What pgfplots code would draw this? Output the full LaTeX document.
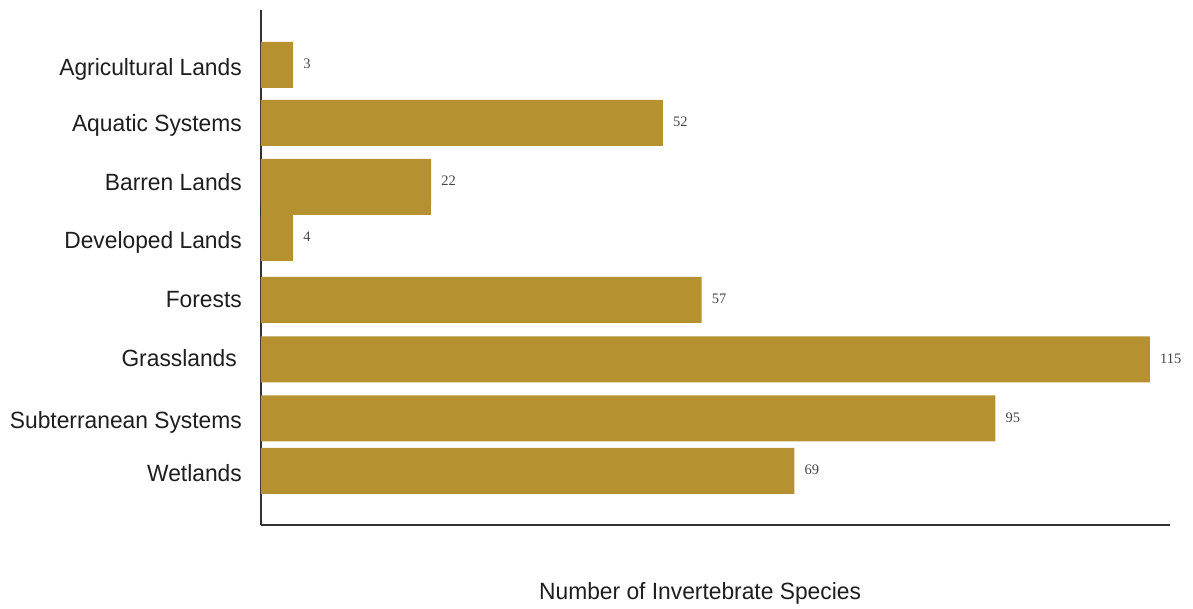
\documentclass[border=0pt]{standalone}
\usepackage{pgfplots}
\pgfplotsset{compat=1.18}
\usepackage{fontspec}
\setmainfont{Liberation Sans}[FakeStretch=0.97]
\newfontfamily\valfont{Liberation Serif}
\definecolor{barc}{RGB}{181,146,47}
\definecolor{axc}{RGB}{50,50,50}
\definecolor{valc}{RGB}{70,70,70}
\definecolor{txtc}{RGB}{30,30,30}
\begin{document}
\begin{tikzpicture}
\begin{axis}[
  at={(0,0)}, anchor=south west,
  scale only axis, width=909pt, height=515pt,
  xmin=0, xmax=117.6, ymin=-525, ymax=-10,
  axis x line*=bottom, axis y line*=left,
  axis line style={color=axc, line width=1.2pt},
  xtick=\empty,
  ytick={-67,-123,-182,-240,-299,-358,-420,-473},
  yticklabels={Agricultural Lands, Aquatic Systems, Barren Lands, Developed Lands, Forests, Grasslands\hspace*{5pt}, Subterranean Systems, Wetlands},
  major tick length=0pt,
  yticklabel style={font=\fontsize{23.5}{28}\selectfont, text=txtc, anchor=base east, inner sep=0pt, xshift=-19pt, yshift=-8.4pt},
  xlabel={Number of Invertebrate Species},
  xlabel style={font=\fontsize{23.5}{28}\selectfont, text=txtc, at={(axis description cs:0.483,-0.1456)}, anchor=base, inner sep=0pt},
  clip=false,
  nodes near coords style={font=\valfont\fontsize{14.5}{16}\selectfont, text=valc, anchor=west, inner sep=0pt, xshift=10pt, yshift=1pt},
]
\addplot[xbar, bar shift=0pt, bar width=56, fill=barc, draw=none] coordinates {(22,-187)};
\addplot[xbar, bar shift=0pt, bar width=46, fill=barc, draw=none,
  point meta=explicit symbolic, nodes near coords]
  coordinates {
    (4.15,-65) [3]
    (52,-123) [52]
    (22,-182) [22]
    (4.15,-238) [4]
    (57,-300) [57]
    (115,-359.5) [115]
    (95,-418.5) [95]
    (69,-471) [69]
  };
\end{axis}
\pgfresetboundingbox
\useasboundingbox (-261pt,-84pt) rectangle (932pt,525pt);
\end{tikzpicture}
\end{document}
